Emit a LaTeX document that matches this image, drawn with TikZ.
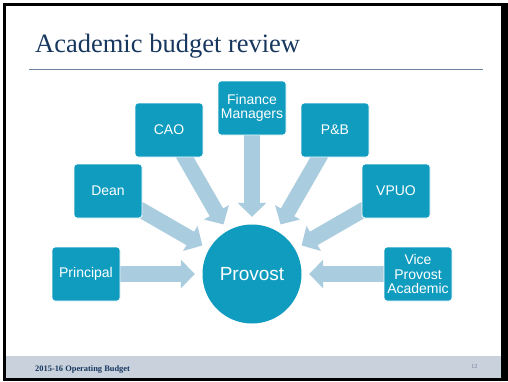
\documentclass[tikz,border=0pt]{standalone}
\usepackage{fontspec}
\setmainfont{Liberation Serif}
\setsansfont{Liberation Sans}
\usetikzlibrary{arrows.meta,backgrounds}
\definecolor{boxteal}{RGB}{16,156,191}
\definecolor{arrowblue}{RGB}{169,204,222}
\definecolor{titleblue}{RGB}{23,55,94}
\definecolor{rulegray}{RGB}{110,132,163}
\definecolor{footgray}{RGB}{201,209,221}
\definecolor{numgray}{RGB}{110,125,150}
\begin{document}
\begin{tikzpicture}[x=1pt,y=-1pt,
  box/.style={rectangle, rounded corners=3pt, fill=boxteal, draw=white, line width=0.8pt,
    minimum width=68pt, minimum height=54pt, inner sep=0pt, text=white,
    font=\sffamily\fontsize{14}{14.5}\selectfont, align=center},
  flow/.style={draw=arrowblue, line width=15.5pt, -{Triangle[length=14pt,width=28pt]},
    shorten >=7.5pt, shorten <=-4pt}]
\useasboundingbox (0,0) rectangle (508,381);

\node[anchor=base west, text=titleblue, inner sep=0pt, font=\fontsize{26.5}{30}\selectfont] (title) at (35,52) {Academic budget review};
\draw[rulegray, line width=1.5pt] (29,69.5) coordinate (ruleL) -- (483,69.5) coordinate (ruleR);

\node[anchor=base west, inner sep=0pt, text=titleblue, font=\bfseries\fontsize{8.4}{10}\selectfont] (foot) at (35,371.5) {2015-16 Operating Budget};
\node[anchor=base east, inner sep=0pt, text=numgray, font=\fontsize{6}{7}\selectfont] (pagenum) at (477.5,368) {12};

\node[circle, fill=boxteal, minimum size=99pt, inner sep=0pt, text=white, font=\sffamily\fontsize{19}{22}\selectfont] (prov) at (252,274) {Provost};

\node[box] (pri) at (86,274) {Principal};
\node[box] (dean) at (108,191) {Dean};
\node[box] (cao) at (169,130) {CAO};
\node[box] (fin) at (252,108) {Finance\\Managers};
\node[box] (pb) at (335,130) {P\&B};
\node[box] (vpuo) at (396,191) {VPUO};
\node[box] (vpa) at (418,274) {Vice\\Provost\\Academic};

\begin{scope}[on background layer]
\fill[white] (0,0) rectangle (508,381);
\fill[black] (3,3) rectangle (508,381);
\fill[white] (6,5.5) rectangle (501,378);
\fill[footgray] (6,356) rectangle (501,378);
\draw[flow] (pri) -- (prov);
\draw[flow] (dean) -- (prov);
\draw[flow] (cao) -- (prov);
\draw[flow] (fin) -- (prov);
\draw[flow] (pb) -- (prov);
\draw[flow] (vpuo) -- (prov);
\draw[flow] (vpa) -- (prov);
\end{scope}
\end{tikzpicture}
\end{document}
